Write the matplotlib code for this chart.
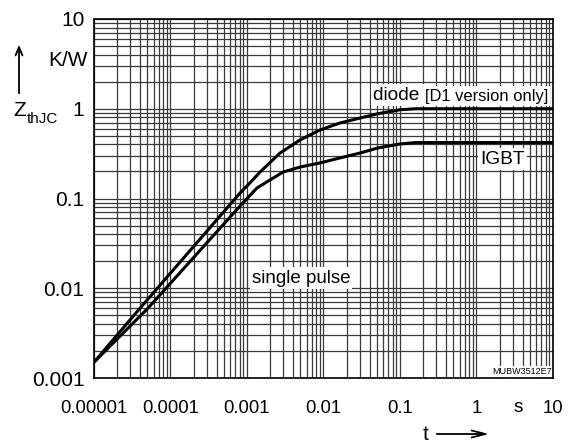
import numpy as np
import matplotlib
matplotlib.use("Agg")
import matplotlib.pyplot as plt
from matplotlib.ticker import LogLocator, NullFormatter, FixedLocator, FixedFormatter

# transient thermal impedance
diode_t = [1e-5, 4.0e-5, 8.1e-4, 1.09e-3, 1.48e-3, 2.7e-3, 4.93e-3, 8.99e-3, 0.0164, 0.030, 0.0515, 0.1, 0.16, 10]
diode_z = [0.0015, 0.006, 0.115, 0.149, 0.197, 0.321, 0.449, 0.580, 0.694, 0.788, 0.880, 0.975, 1.0, 1.0]

igbt_t = [1e-5, 5.08e-5, 8.1e-4, 1.35e-3, 2.0e-3, 2.96e-3, 4.93e-3, 8.99e-3, 0.0164, 0.030, 0.0515, 0.1, 0.16, 10]
igbt_z = [0.0015, 0.006, 0.0824, 0.131, 0.161, 0.197, 0.224, 0.249, 0.283, 0.321, 0.366, 0.405, 0.42, 0.42]

x_ticks = [1e-5, 1e-4, 1e-3, 1e-2, 1e-1, 1, 10]
x_labels = ['0.00001', '0.0001', '0.001', '0.01', '0.1', '1', '10']
y_ticks = [0.001, 0.01, 0.1, 1, 10]
y_labels = ['0.001', '0.01', '0.1', '1', '10']

plt.rcParams['font.family'] = ['Liberation Sans', 'DejaVu Sans']

W, H = 577, 445
fig = plt.figure(figsize=(W / 100, H / 100), dpi=100)
ax = fig.add_axes([94 / W, 1 - 378 / H, (553 - 94) / W, (378 - 19) / H])

ax.set_xscale('log')
ax.set_yscale('log')
ax.set_xlim(1e-5, 10)
ax.set_ylim(1e-3, 10)

ax.xaxis.set_major_locator(FixedLocator(x_ticks))
ax.xaxis.set_major_formatter(FixedFormatter(x_labels))
ax.yaxis.set_major_locator(FixedLocator(y_ticks))
ax.yaxis.set_major_formatter(FixedFormatter(y_labels))
ax.xaxis.set_minor_locator(LogLocator(base=10, subs=np.arange(2, 10), numticks=20))
ax.yaxis.set_minor_locator(LogLocator(base=10, subs=np.arange(2, 10), numticks=20))
ax.xaxis.set_minor_formatter(NullFormatter())
ax.yaxis.set_minor_formatter(NullFormatter())

ax.tick_params(which='both', length=0)
ax.tick_params(axis='x', labelsize=13.3, pad=16)
ax.tick_params(axis='y', labelsize=15, pad=7)
ax.grid(which='both', color='#3a3a3a', lw=0.9)
ax.set_axisbelow(True)
for sp in ax.spines.values():
    sp.set_linewidth(1.2)
    sp.set_color('black')

ax.plot(diode_t, diode_z, color='black', lw=2.2, zorder=3)
ax.plot(igbt_t, igbt_z, color='black', lw=2.2, zorder=3)

box = dict(facecolor='white', edgecolor='none', pad=1.5)
t1 = ax.text(0.0443, 1.42, 'diode ', fontsize=13.8, va='center', ha='left', bbox=box, zorder=4)
ax.annotate('[D1 version only]', xy=(1, 0), xycoords=t1, xytext=(0, 0), textcoords='offset points',
            fontsize=11.9, va='bottom', ha='left', bbox=box, zorder=4)
ax.text(1.11, 0.275, 'IGBT', fontsize=13.8, va='center', ha='left', bbox=box, zorder=4)
ax.text(0.00116, 0.013, 'single pulse', fontsize=13.5, va='center', ha='left', bbox=box, zorder=4)
ax.text(0.997, 0.018, 'MUBW3512E7', fontsize=6.5, va='center', ha='right',
        transform=ax.transAxes, bbox=dict(facecolor='white', edgecolor='none', pad=0.5), zorder=4)

# axis units and symbols
ax.text(3.5, -30 / 359, 's', fontsize=13.8, va='center', ha='center', transform=ax.get_xaxis_transform())
fig.text(88 / W, 1 - 60 / H, 'K/W', fontsize=15, va='center', ha='right')
fig.text(13 / W, 1 - 111 / H, 'Z', fontsize=15, va='center', ha='left')
fig.text(27 / W, 1 - 119 / H, 'thJC', fontsize=11, va='center', ha='left')
fig.patches.append(matplotlib.patches.FancyArrowPatch(
    (19 / W, 1 - 96 / H), (19 / W, 1 - 42 / H), transform=fig.transFigure,
    arrowstyle='->,head_length=6,head_width=2.5', color='black', lw=1.3, mutation_scale=1))
fig.text(426 / W, 1 - 434 / H, 't', fontsize=15, va='center', ha='center')
fig.patches.append(matplotlib.patches.FancyArrowPatch(
    (434 / W, 1 - 434 / H), (492 / W, 1 - 434 / H), transform=fig.transFigure,
    arrowstyle='->,head_length=10,head_width=2.5', color='black', lw=1.3, mutation_scale=1))

fig.savefig('out.png', dpi=100)
